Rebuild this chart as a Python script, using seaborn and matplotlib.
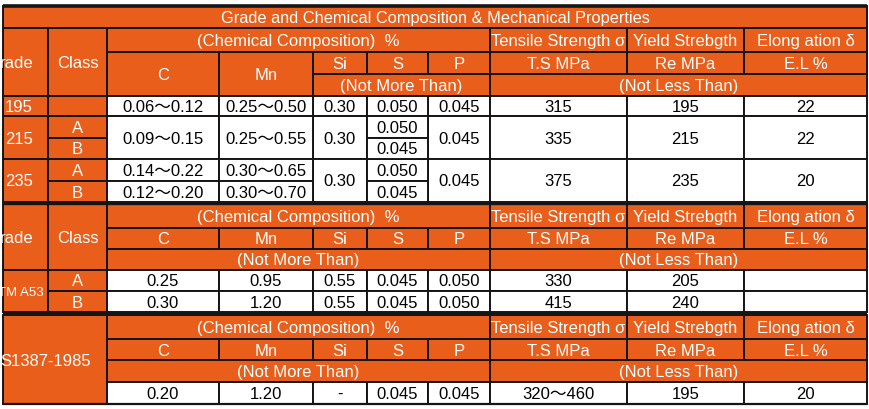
import matplotlib
matplotlib.use("Agg")
import matplotlib.pyplot as plt
from matplotlib.patches import Rectangle
import seaborn as sns

sns.set_theme(style="white")
plt.rcParams['font.family'] = ['Liberation Sans', 'Noto Sans CJK SC', 'DejaVu Sans']

""" Textos do cabeçalho """
title = "Grade and Chemical Composition & Mechanical Properties"
grade_label = "rade"   # cortado na borda esquerda da imagem original
chem_header = "(Chemical Composition)  %"
elements = ["C", "Mn", "Si", "S", "P"]
mech_names = ["Tensile Strength σ", "Yield Strebgth", "Elong ation δ"]
mech_units = ["T.S MPa", "Re MPa", "E.L %"]
not_more = "(Not More Than)"
not_less = "(Not Less Than)"
classes = ["A", "B"]

""" Seção 1: Q195 / Q215 / Q235 (só a parte visível do nome) """
grades_1 = ["195", "215", "235"]
c_1 = ["0.06～0.12", "0.09～0.15", "0.14～0.22", "0.12～0.20"]
mn_1 = ["0.25～0.50", "0.25～0.55", "0.30～0.65", "0.30～0.70"]
si_1 = ["0.30", "0.30", "0.30"]
s_1 = ["0.050", "0.050", "0.045", "0.050", "0.045"]
p_1 = ["0.045", "0.045", "0.045"]
ts_1 = ["315", "335", "375"]
re_1 = ["195", "215", "235"]
el_1 = ["22", "22", "20"]

""" Seção 2: ASTM A53 """
grade_2 = "TM A53"
c_2 = ["0.25", "0.30"]
mn_2 = ["0.95", "1.20"]
si_2 = ["0.55", "0.55"]
s_2 = ["0.045", "0.045"]
p_2 = ["0.050", "0.050"]
ts_2 = ["330", "415"]
re_2 = ["205", "240"]
el_2 = ["", ""]

""" Seção 3: BS1387-1985 """
grade_3 = "S1387-1985"
values_3 = ["0.20", "1.20", "-", "0.045", "0.045", "320～460", "195", "20"]

ORANGE = "#E95E1B"
LINE = "#151515"
FS = 12

# bordas das colunas e linhas (pixels)
X = [3, 48, 107, 219, 313, 367, 428, 490, 627, 744, 867]
Y1 = [6, 28, 52, 74, 96, 116, 138, 159, 181, 202]
Y2 = [204, 228, 249, 270, 291, 312]
Y3 = [315, 339, 360, 382, 404]

fig = plt.figure(figsize=(8.7, 4.09), dpi=100)
ax = fig.add_axes([0, 0, 1, 1])
ax.set_xlim(0, 870)
ax.set_ylim(409, 0)
ax.axis("off")


def cell(x0, x1, y0, y1, text="", head=True, size=FS, tx=None, ha="center"):
    rect = Rectangle((x0, y0), x1 - x0, y1 - y0, facecolor=ORANGE if head else "white",
                     edgecolor=LINE, linewidth=1.4)
    ax.add_patch(rect)
    if text:
        em = size * 100 / 72
        ax.text(tx if tx is not None else (x0 + x1) / 2, (y0 + y1) / 2 + 0.36 * em, text,
                ha=ha, va="baseline", color="white" if head else "black", fontsize=size)


def mech_header(y):
    cell(X[2], X[7], y[0], y[1], chem_header)
    for i, name in enumerate(mech_names):
        cell(X[7 + i], X[8 + i], y[0], y[1], name)
    for i, el in enumerate(elements):
        cell(X[2 + i], X[3 + i], y[1], y[2], el)
    for i, u in enumerate(mech_units):
        cell(X[7 + i], X[8 + i], y[1], y[2], u)
    cell(X[2], X[7], y[2], y[3], not_more)
    cell(X[7], X[10], y[2], y[3], not_less)


# Seção 1 - cabeçalho
cell(X[0], X[10], Y1[0], Y1[1], title, size=11.8)
cell(X[0], X[1], Y1[1], Y1[4], grade_label, tx=34, ha="right")
cell(X[1], X[2], Y1[1], Y1[4], "Class")
cell(X[2], X[7], Y1[1], Y1[2], chem_header)
for i, name in enumerate(mech_names):
    cell(X[7 + i], X[8 + i], Y1[1], Y1[2], name)
cell(X[2], X[3], Y1[2], Y1[4], elements[0])
cell(X[3], X[4], Y1[2], Y1[4], elements[1])
for i, el in enumerate(elements[2:]):
    cell(X[4 + i], X[5 + i], Y1[2], Y1[3], el)
for i, u in enumerate(mech_units):
    cell(X[7 + i], X[8 + i], Y1[2], Y1[3], u)
cell(X[4], X[7], Y1[3], Y1[4], not_more)
cell(X[7], X[10], Y1[3], Y1[4], not_less)

# Seção 1 - dados
blocks = [(Y1[4], Y1[5]), (Y1[5], Y1[7]), (Y1[7], Y1[9])]
for g, (y0, y1) in enumerate(blocks):
    cell(X[0], X[1], y0, y1, grades_1[g], tx=33, ha="right")
    cell(X[4], X[5], y0, y1, si_1[g], head=False)
    cell(X[6], X[7], y0, y1, p_1[g], head=False)
    cell(X[7], X[8], y0, y1, ts_1[g], head=False)
    cell(X[8], X[9], y0, y1, re_1[g], head=False)
    cell(X[9], X[10], y0, y1, el_1[g], head=False)
cell(X[1], X[2], Y1[4], Y1[5])
for k in range(2):
    cell(X[1], X[2], Y1[5 + k], Y1[6 + k], classes[k])
    cell(X[1], X[2], Y1[7 + k], Y1[8 + k], classes[k])
cell(X[2], X[3], Y1[4], Y1[5], c_1[0], head=False)
cell(X[3], X[4], Y1[4], Y1[5], mn_1[0], head=False)
cell(X[2], X[3], Y1[5], Y1[7], c_1[1], head=False)
cell(X[3], X[4], Y1[5], Y1[7], mn_1[1], head=False)
for k in range(2):
    cell(X[2], X[3], Y1[7 + k], Y1[8 + k], c_1[2 + k], head=False)
    cell(X[3], X[4], Y1[7 + k], Y1[8 + k], mn_1[2 + k], head=False)
cell(X[5], X[6], Y1[4], Y1[5], s_1[0], head=False)
for k in range(2):
    cell(X[5], X[6], Y1[5 + k], Y1[6 + k], s_1[1 + k], head=False)
    cell(X[5], X[6], Y1[7 + k], Y1[8 + k], s_1[3 + k], head=False)

# Seção 2 - ASTM A53
cell(X[0], X[1], Y2[0], Y2[3], grade_label, tx=34, ha="right")
cell(X[1], X[2], Y2[0], Y2[3], "Class")
mech_header(Y2)
cell(X[0], X[1], Y2[3], Y2[5], grade_2, size=9.5, tx=44, ha="right")
cols_2 = [c_2, mn_2, si_2, s_2, p_2, ts_2, re_2, el_2]
for k in range(2):
    y0, y1 = Y2[3 + k], Y2[4 + k]
    cell(X[1], X[2], y0, y1, classes[k])
    for j, col in enumerate(cols_2):
        cell(X[2 + j], X[3 + j], y0, y1, col[k], head=False)

# Seção 3 - BS1387-1985
cell(X[0], X[2], Y3[0], Y3[4], grade_3, tx=91, ha="right")
mech_header(Y3)
for j, v in enumerate(values_3):
    cell(X[2 + j], X[3 + j], Y3[3], Y3[4], v, head=False)

# linhas grossas separando as seções
ax.hlines(5.5, X[0], X[10], color=LINE, linewidth=2.6)
ax.hlines(203, X[0], X[10], color=LINE, linewidth=2.4)
ax.hlines(313.5, X[0], X[10], color=LINE, linewidth=2.6)
ax.hlines(404, X[0], X[10], color=LINE, linewidth=1.6)

fig.savefig("out.png", dpi=100)
